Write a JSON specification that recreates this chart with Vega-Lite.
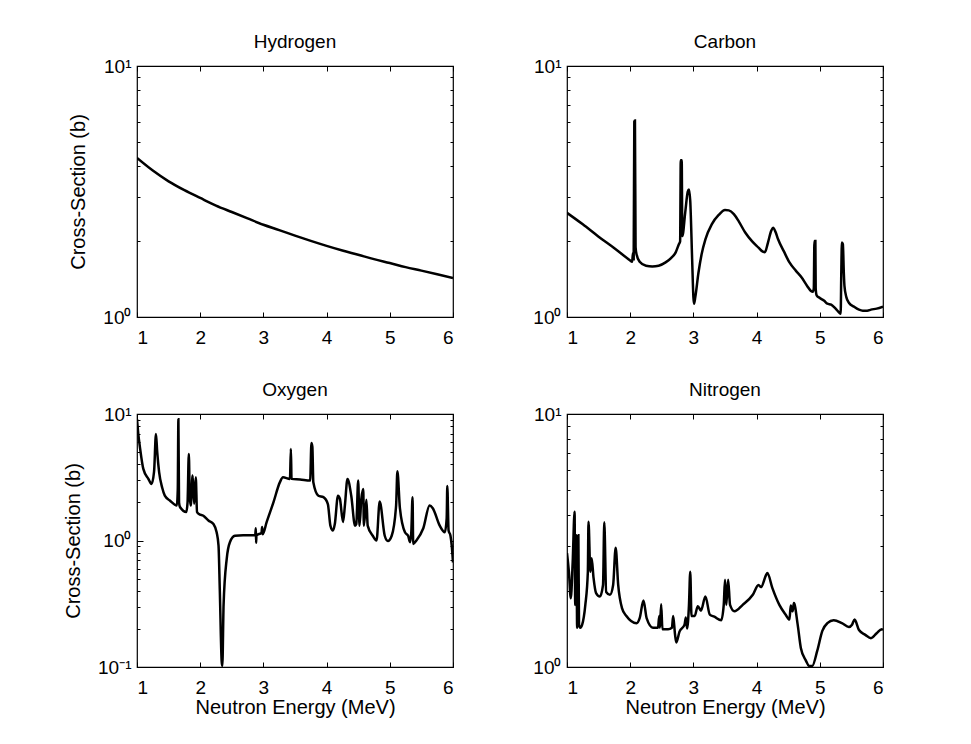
{
  "$schema": "https://vega.github.io/schema/vega-lite/v6.json",
  "background": "white",
  "padding": {"left": 62, "top": 32, "right": 5, "bottom": 5},
  "config": {
    "font": "Liberation Sans",
    "view": {"stroke": "black", "strokeWidth": 1.2},
    "axis": {
      "grid": false, "domain": false,
      "labelFont": "Liberation Sans", "labelFontSize": 19, "labelColor": "black",
      "titleFont": "Liberation Sans", "titleFontSize": 20, "titleFontWeight": "normal", "titleColor": "black",
      "tickColor": "black", "tickWidth": 1
    },
    "title": {"font": "Liberation Sans", "fontSize": 19, "fontWeight": "normal", "color": "black", "offset": 5}
  },
  "datasets": {
    "h": [{"E":1,"s":4.30},{"E":1.25,"s":3.83},{"E":1.5,"s":3.47},{"E":1.75,"s":3.2},{"E":2,"s":2.98},{"E":2.25,"s":2.78},{"E":2.5,"s":2.62},{"E":2.75,"s":2.47},{"E":3,"s":2.33},{"E":3.25,"s":2.22},{"E":3.5,"s":2.11},{"E":3.75,"s":2.01},{"E":4,"s":1.92},{"E":4.25,"s":1.84},{"E":4.5,"s":1.77},{"E":4.75,"s":1.70},{"E":5,"s":1.64},{"E":5.25,"s":1.58},{"E":5.5,"s":1.53},{"E":5.75,"s":1.48},{"E":6,"s":1.43}],
    "c": [{"E":1,"s":2.60},{"E":1.25,"s":2.34},{"E":1.5,"s":2.09},{"E":1.75,"s":1.88},{"E":2.0,"s":1.68},{"E":2.03,"s":1.66},{"E":2.045,"s":1.80},{"E":2.055,"s":1.70},{"E":2.065,"s":6.0},{"E":2.075,"s":6.06},{"E":2.085,"s":1.9},{"E":2.10,"s":1.78},{"E":2.15,"s":1.66},{"E":2.25,"s":1.60},{"E":2.35,"s":1.59},{"E":2.45,"s":1.60},{"E":2.56,"s":1.65},{"E":2.65,"s":1.72},{"E":2.72,"s":1.81},{"E":2.77,"s":1.95},{"E":2.79,"s":2.0},{"E":2.80,"s":4.21},{"E":2.815,"s":4.21},{"E":2.825,"s":2.1},{"E":2.87,"s":2.6},{"E":2.91,"s":3.15},{"E":2.93,"s":3.22},{"E":2.95,"s":2.9},{"E":2.98,"s":1.7},{"E":3.0,"s":1.2},{"E":3.01,"s":1.13},{"E":3.03,"s":1.2},{"E":3.08,"s":1.5},{"E":3.13,"s":1.78},{"E":3.19,"s":2.04},{"E":3.29,"s":2.34},{"E":3.40,"s":2.55},{"E":3.50,"s":2.67},{"E":3.56,"s":2.66},{"E":3.64,"s":2.57},{"E":3.72,"s":2.40},{"E":3.82,"s":2.17},{"E":3.93,"s":2.0},{"E":4.03,"s":1.89},{"E":4.10,"s":1.82},{"E":4.13,"s":1.81},{"E":4.18,"s":1.98},{"E":4.23,"s":2.2},{"E":4.26,"s":2.27},{"E":4.30,"s":2.18},{"E":4.34,"s":2.04},{"E":4.43,"s":1.83},{"E":4.52,"s":1.65},{"E":4.62,"s":1.53},{"E":4.71,"s":1.44},{"E":4.80,"s":1.33},{"E":4.86,"s":1.27},{"E":4.89,"s":1.26},{"E":4.905,"s":1.3},{"E":4.915,"s":2.01},{"E":4.93,"s":2.01},{"E":4.935,"s":1.3},{"E":4.95,"s":1.22},{"E":5.0,"s":1.19},{"E":5.07,"s":1.16},{"E":5.12,"s":1.13},{"E":5.18,"s":1.12},{"E":5.25,"s":1.08},{"E":5.31,"s":1.04},{"E":5.33,"s":1.03},{"E":5.34,"s":1.5},{"E":5.35,"s":1.98},{"E":5.365,"s":1.95},{"E":5.38,"s":1.5},{"E":5.39,"s":1.33},{"E":5.42,"s":1.2},{"E":5.46,"s":1.14},{"E":5.54,"s":1.10},{"E":5.62,"s":1.07},{"E":5.68,"s":1.06},{"E":5.75,"s":1.06},{"E":5.81,"s":1.07},{"E":5.9,"s":1.08},{"E":6.0,"s":1.10}],
    "o": [{"E":1.0,"s":9.1},{"E":1.02,"s":7.0},{"E":1.05,"s":5.3},{"E":1.10,"s":3.68},{"E":1.18,"s":3.07},{"E":1.23,"s":2.80},{"E":1.27,"s":3.5},{"E":1.30,"s":6.95},{"E":1.32,"s":5.0},{"E":1.35,"s":3.47},{"E":1.40,"s":2.6},{"E":1.44,"s":2.26},{"E":1.52,"s":2.07},{"E":1.63,"s":1.89},{"E":1.645,"s":2.5},{"E":1.655,"s":9.1},{"E":1.665,"s":2.0},{"E":1.68,"s":1.84},{"E":1.78,"s":1.68},{"E":1.80,"s":2.0},{"E":1.82,"s":4.83},{"E":1.835,"s":2.2},{"E":1.85,"s":1.89},{"E":1.88,"s":3.26},{"E":1.905,"s":1.95},{"E":1.93,"s":3.16},{"E":1.95,"s":1.68},{"E":1.98,"s":1.62},{"E":2.05,"s":1.57},{"E":2.13,"s":1.44},{"E":2.21,"s":1.35},{"E":2.26,"s":1.16},{"E":2.29,"s":0.91},{"E":2.31,"s":0.41},{"E":2.34,"s":0.11},{"E":2.35,"s":0.102},{"E":2.37,"s":0.31},{"E":2.42,"s":0.72},{"E":2.47,"s":0.97},{"E":2.55,"s":1.09},{"E":2.68,"s":1.10},{"E":2.87,"s":1.10},{"E":2.88,"s":1.25},{"E":2.885,"s":0.96},{"E":2.89,"s":1.10},{"E":2.97,"s":1.15},{"E":2.98,"s":1.28},{"E":2.99,"s":1.12},{"E":3.05,"s":1.39},{"E":3.16,"s":2.01},{"E":3.26,"s":2.88},{"E":3.31,"s":3.16},{"E":3.42,"s":3.07},{"E":3.435,"s":5.3},{"E":3.445,"s":3.07},{"E":3.58,"s":3.04},{"E":3.74,"s":2.98},{"E":3.76,"s":5.9},{"E":3.775,"s":5.5},{"E":3.79,"s":2.89},{"E":3.87,"s":2.26},{"E":3.95,"s":2.20},{"E":4.02,"s":1.94},{"E":4.06,"s":1.31},{"E":4.10,"s":1.20},{"E":4.13,"s":1.35},{"E":4.18,"s":2.26},{"E":4.21,"s":2.14},{"E":4.26,"s":1.40},{"E":4.29,"s":1.9},{"E":4.33,"s":3.07},{"E":4.39,"s":2.26},{"E":4.45,"s":1.31},{"E":4.47,"s":1.35},{"E":4.50,"s":2.98},{"E":4.52,"s":1.31},{"E":4.55,"s":2.14},{"E":4.58,"s":2.55},{"E":4.59,"s":1.31},{"E":4.63,"s":2.1},{"E":4.65,"s":1.31},{"E":4.73,"s":1.09},{"E":4.79,"s":1.0},{"E":4.84,"s":2.03},{"E":4.92,"s":1.09},{"E":4.97,"s":0.99},{"E":5.03,"s":1.09},{"E":5.10,"s":1.9},{"E":5.12,"s":3.52},{"E":5.16,"s":1.8},{"E":5.24,"s":1.16},{"E":5.29,"s":1.09},{"E":5.32,"s":0.97},{"E":5.34,"s":1.16},{"E":5.36,"s":2.20},{"E":5.37,"s":0.94},{"E":5.42,"s":1.0},{"E":5.53,"s":1.25},{"E":5.63,"s":1.89},{"E":5.68,"s":1.8},{"E":5.79,"s":1.31},{"E":5.87,"s":1.16},{"E":5.90,"s":1.5},{"E":5.91,"s":2.7},{"E":5.93,"s":1.2},{"E":5.96,"s":1.09},{"E":5.98,"s":0.91},{"E":6.0,"s":0.67}],
    "n": [{"E":1.00,"s":2.82},{"E":1.03,"s":2.38},{"E":1.06,"s":1.87},{"E":1.09,"s":2.6},{"E":1.12,"s":4.11},{"E":1.13,"s":1.76},{"E":1.15,"s":3.32},{"E":1.16,"s":1.43},{"E":1.18,"s":3.32},{"E":1.19,"s":1.47},{"E":1.21,"s":1.43},{"E":1.24,"s":1.47},{"E":1.29,"s":1.76},{"E":1.33,"s":2.38},{"E":1.34,"s":3.75},{"E":1.37,"s":2.38},{"E":1.39,"s":2.69},{"E":1.42,"s":2.25},{"E":1.46,"s":1.96},{"E":1.52,"s":1.90},{"E":1.57,"s":2.11},{"E":1.59,"s":3.73},{"E":1.62,"s":1.98},{"E":1.68,"s":1.93},{"E":1.73,"s":2.11},{"E":1.77,"s":2.96},{"E":1.81,"s":2.11},{"E":1.87,"s":1.71},{"E":1.94,"s":1.59},{"E":2.10,"s":1.49},{"E":2.15,"s":1.56},{"E":2.21,"s":1.83},{"E":2.26,"s":1.56},{"E":2.36,"s":1.43},{"E":2.44,"s":1.43},{"E":2.46,"s":1.59},{"E":2.47,"s":1.43},{"E":2.49,"s":1.77},{"E":2.51,"s":1.41},{"E":2.60,"s":1.41},{"E":2.66,"s":1.43},{"E":2.68,"s":1.59},{"E":2.71,"s":1.34},{"E":2.73,"s":1.25},{"E":2.78,"s":1.38},{"E":2.86,"s":1.47},{"E":2.88,"s":1.57},{"E":2.90,"s":1.42},{"E":2.93,"s":1.76},{"E":2.95,"s":2.38},{"E":2.97,"s":1.59},{"E":3.02,"s":1.59},{"E":3.07,"s":1.74},{"E":3.12,"s":1.67},{"E":3.19,"s":1.90},{"E":3.26,"s":1.61},{"E":3.33,"s":1.58},{"E":3.44,"s":1.53},{"E":3.48,"s":1.76},{"E":3.50,"s":2.21},{"E":3.52,"s":1.76},{"E":3.55,"s":2.21},{"E":3.58,"s":1.76},{"E":3.65,"s":1.66},{"E":3.78,"s":1.76},{"E":3.94,"s":1.93},{"E":4.03,"s":2.11},{"E":4.07,"s":2.07},{"E":4.15,"s":2.31},{"E":4.17,"s":2.35},{"E":4.25,"s":2.05},{"E":4.36,"s":1.76},{"E":4.46,"s":1.61},{"E":4.52,"s":1.54},{"E":4.54,"s":1.75},{"E":4.57,"s":1.66},{"E":4.59,"s":1.79},{"E":4.65,"s":1.47},{"E":4.70,"s":1.19},{"E":4.78,"s":1.06},{"E":4.83,"s":1.01},{"E":4.88,"s":1.01},{"E":4.96,"s":1.16},{"E":5.04,"s":1.39},{"E":5.12,"s":1.49},{"E":5.22,"s":1.53},{"E":5.35,"s":1.49},{"E":5.46,"s":1.44},{"E":5.51,"s":1.47},{"E":5.55,"s":1.54},{"E":5.62,"s":1.40},{"E":5.72,"s":1.34},{"E":5.81,"s":1.30},{"E":5.90,"s":1.36},{"E":5.98,"s":1.41},{"E":6.0,"s":1.40}]
  },
  "columns": 2,
  "spacing": {"row": 32, "column": 77},
  "concat": [
    {
      "title": "Hydrogen", "width": 316, "height": 251, "data": {"name": "h"},
      "resolve": {"axis": {"x": "independent", "y": "independent"}},
      "layer": [
        {"mark": {"type": "line", "color": "black", "strokeWidth": 2.5, "clip": true, "interpolate": "monotone"},
         "encoding": {
           "x": {"field": "E", "type": "quantitative", "scale": {"domain": [1, 6], "nice": false, "zero": false},
                 "axis": {"orient": "bottom", "values": [1,2,3,4,5,6], "tickSize": -5, "labelPadding": 16, "title": null}},
           "y": {"field": "s", "type": "quantitative", "scale": {"type": "log", "domain": [1, 10], "nice": false},
                 "axis": {"orient": "left", "values": [1,2,3,4,5,6,7,8,9,10], "tickSize": {"condition": {"test": "datum.value == 1 || datum.value == 10", "value": -6}, "value": -3},
                          "labelExpr": "datum.value == 10 ? '10¹' : datum.value == 1 ? '10⁰' : ''", "labelPadding": 12, "title": "Cross-Section (b)", "titlePadding": 14}}}},
        {"mark": {"type": "line", "strokeOpacity": 0},
         "encoding": {
           "x": {"field": "E", "type": "quantitative", "scale": {"domain": [1, 6], "nice": false, "zero": false},
                 "axis": {"orient": "top", "values": [1,2,3,4,5,6], "tickSize": -5, "labels": false, "title": null}},
           "y": {"field": "s", "type": "quantitative", "scale": {"type": "log", "domain": [1, 10], "nice": false},
                 "axis": {"orient": "right", "values": [1,2,3,4,5,6,7,8,9,10], "tickSize": -3, "labels": false, "title": null}}}}
      ]
    },
    {
      "title": "Carbon", "width": 316, "height": 251, "data": {"name": "c"},
      "resolve": {"axis": {"x": "independent", "y": "independent"}},
      "layer": [
        {"mark": {"type": "line", "color": "black", "strokeWidth": 2.5, "clip": true, "interpolate": "monotone"},
         "encoding": {
           "x": {"field": "E", "type": "quantitative", "scale": {"domain": [1, 6], "nice": false, "zero": false},
                 "axis": {"orient": "bottom", "values": [1,2,3,4,5,6], "tickSize": -5, "labelPadding": 16, "title": null}},
           "y": {"field": "s", "type": "quantitative", "scale": {"type": "log", "domain": [1, 10], "nice": false},
                 "axis": {"orient": "left", "values": [1,2,3,4,5,6,7,8,9,10], "tickSize": {"condition": {"test": "datum.value == 1 || datum.value == 10", "value": -6}, "value": -3},
                          "labelExpr": "datum.value == 10 ? '10¹' : datum.value == 1 ? '10⁰' : ''", "labelPadding": 12, "title": null}}}},
        {"mark": {"type": "line", "strokeOpacity": 0},
         "encoding": {
           "x": {"field": "E", "type": "quantitative", "scale": {"domain": [1, 6], "nice": false, "zero": false},
                 "axis": {"orient": "top", "values": [1,2,3,4,5,6], "tickSize": -5, "labels": false, "title": null}},
           "y": {"field": "s", "type": "quantitative", "scale": {"type": "log", "domain": [1, 10], "nice": false},
                 "axis": {"orient": "right", "values": [1,2,3,4,5,6,7,8,9,10], "tickSize": -3, "labels": false, "title": null}}}}
      ]
    },
    {
      "title": "Oxygen", "width": 316, "height": 253, "data": {"name": "o"},
      "resolve": {"axis": {"x": "independent", "y": "independent"}},
      "layer": [
        {"mark": {"type": "line", "color": "black", "strokeWidth": 2.5, "clip": true, "interpolate": "monotone"},
         "encoding": {
           "x": {"field": "E", "type": "quantitative", "scale": {"domain": [1, 6], "nice": false, "zero": false},
                 "axis": {"orient": "bottom", "values": [1,2,3,4,5,6], "tickSize": -5, "labelPadding": 16, "title": "Neutron Energy (MeV)", "titlePadding": 0}},
           "y": {"field": "s", "type": "quantitative", "scale": {"type": "log", "domain": [0.1, 10], "nice": false},
                 "axis": {"orient": "left", "values": [0.1,0.2,0.3,0.4,0.5,0.6,0.7,0.8,0.9,1,2,3,4,5,6,7,8,9,10], "tickSize": {"condition": {"test": "datum.value == 0.1 || datum.value == 1 || datum.value == 10", "value": -6}, "value": -3},
                          "labelExpr": "datum.value == 10 ? '10¹' : datum.value == 1 ? '10⁰' : datum.value == 0.1 ? '10⁻¹' : ''", "labelPadding": 12, "title": "Cross-Section (b)", "titlePadding": 14}}}},
        {"mark": {"type": "line", "strokeOpacity": 0},
         "encoding": {
           "x": {"field": "E", "type": "quantitative", "scale": {"domain": [1, 6], "nice": false, "zero": false},
                 "axis": {"orient": "top", "values": [1,2,3,4,5,6], "tickSize": -5, "labels": false, "title": null}},
           "y": {"field": "s", "type": "quantitative", "scale": {"type": "log", "domain": [0.1, 10], "nice": false},
                 "axis": {"orient": "right", "values": [0.1,0.2,0.3,0.4,0.5,0.6,0.7,0.8,0.9,1,2,3,4,5,6,7,8,9,10], "tickSize": -3, "labels": false, "title": null}}}}
      ]
    },
    {
      "title": "Nitrogen", "width": 316, "height": 253, "data": {"name": "n"},
      "resolve": {"axis": {"x": "independent", "y": "independent"}},
      "layer": [
        {"mark": {"type": "line", "color": "black", "strokeWidth": 2.5, "clip": true, "interpolate": "monotone"},
         "encoding": {
           "x": {"field": "E", "type": "quantitative", "scale": {"domain": [1, 6], "nice": false, "zero": false},
                 "axis": {"orient": "bottom", "values": [1,2,3,4,5,6], "tickSize": -5, "labelPadding": 16, "title": "Neutron Energy (MeV)", "titlePadding": 0}},
           "y": {"field": "s", "type": "quantitative", "scale": {"type": "log", "domain": [1, 10], "nice": false},
                 "axis": {"orient": "left", "values": [1,2,3,4,5,6,7,8,9,10], "tickSize": {"condition": {"test": "datum.value == 1 || datum.value == 10", "value": -6}, "value": -3},
                          "labelExpr": "datum.value == 10 ? '10¹' : datum.value == 1 ? '10⁰' : ''", "labelPadding": 12, "title": null}}}},
        {"mark": {"type": "line", "strokeOpacity": 0},
         "encoding": {
           "x": {"field": "E", "type": "quantitative", "scale": {"domain": [1, 6], "nice": false, "zero": false},
                 "axis": {"orient": "top", "values": [1,2,3,4,5,6], "tickSize": -5, "labels": false, "title": null}},
           "y": {"field": "s", "type": "quantitative", "scale": {"type": "log", "domain": [1, 10], "nice": false},
                 "axis": {"orient": "right", "values": [1,2,3,4,5,6,7,8,9,10], "tickSize": -3, "labels": false, "title": null}}}}
      ]
    }
  ]
}
